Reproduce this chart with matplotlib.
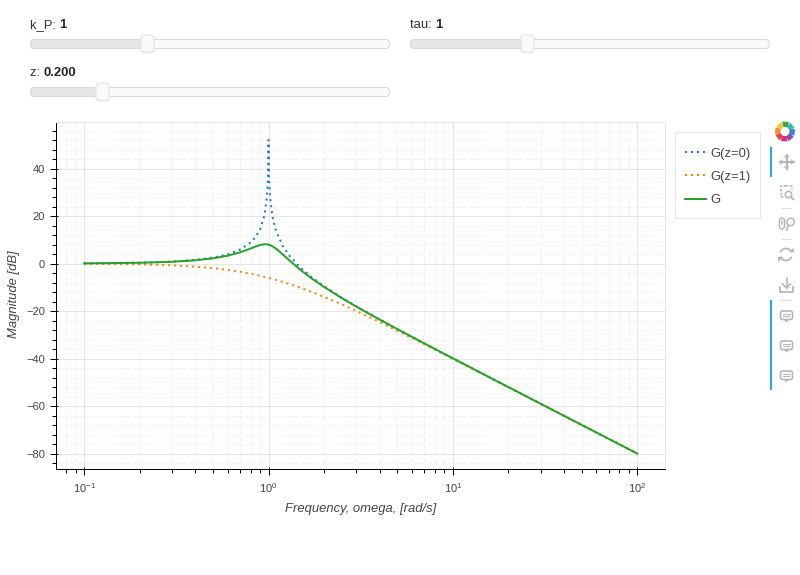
import math
import matplotlib
matplotlib.use('Agg')
import matplotlib.pyplot as plt
from matplotlib.patches import FancyBboxPatch, Rectangle, Circle, Arc, Polygon
from matplotlib.ticker import LogLocator, MultipleLocator, FixedLocator, FixedFormatter, NullFormatter

plt.rcParams['font.family'] = ['Liberation Sans', 'DejaVu Sans']
plt.rcParams['mathtext.fontset'] = 'custom'
plt.rcParams['mathtext.rm'] = 'Liberation Sans'
plt.rcParams['mathtext.default'] = 'regular'

# Frequency response, magnitude in dB
omega_undamped = [0.1, 0.2, 0.3, 0.4, 0.5, 0.6, 0.7, 0.8, 0.85, 0.9, 0.95, 0.98, 0.99, 0.995, 0.998, 0.9987,
                  1.0013, 1.002, 1.005, 1.01, 1.02, 1.05, 1.1, 1.2, 1.3, 1.5, 1.7, 2, 2.5, 3, 4, 5, 7,
                  10, 20, 30, 50, 70, 100]
mag_undamped = [0.09, 0.35, 0.82, 1.51, 2.50, 3.88, 5.85, 8.87, 11.14, 14.42, 20.22, 28.05, 34.0, 40.0, 47.97, 52.0,
                52.0, 48.0, 40.0, 33.9, 27.9, 19.8, 13.6, 7.13, 3.22, -1.94, -5.53, -9.54, -14.4, -18.06, -23.52, -27.6, -33.62,
                -39.91, -52.02, -59.08, -67.96, -73.80, -80.0]

omega_critical = [0.1, 0.2, 0.3, 0.4, 0.5, 0.6, 0.7, 0.8, 0.9, 1, 1.2, 1.5, 2, 2.5, 3, 4, 5, 7,
                  10, 20, 30, 50, 70, 100]
mag_critical = [-0.09, -0.34, -0.75, -1.29, -1.94, -2.67, -3.47, -4.30, -5.15, -6.02, -7.74, -10.24, -13.98, -17.21, -20.0, -24.61, -28.3, -33.98,
                -40.09, -52.06, -59.09, -67.96, -73.81, -80.0]

omega_g = [0.1, 0.2, 0.3, 0.4, 0.5, 0.6, 0.7, 0.8, 0.85, 0.9, 0.95, 0.98, 1.0, 1.02, 1.05, 1.1, 1.2, 1.3, 1.5, 1.7, 2, 2.5, 3, 4, 5, 7,
           10, 20, 30, 50, 70, 100]
mag_g = [0.08, 0.33, 0.74, 1.36, 2.20, 3.30, 4.70, 6.34, 7.15, 7.81, 8.13, 8.09, 7.96, 7.74, 7.28, 6.24, 3.73, 1.27, -2.84, -6.06, -9.84, -14.56, -18.16, -23.57, -27.63, -33.64,
         -39.92, -52.02, -59.08, -67.96, -73.80, -80.0]

series_labels = ['G(z=0)', 'G(z=1)', 'G']
slider_labels = ['k_P: ', 'tau: ', 'z: ']
slider_values = ['1', '1', '0.200']

x_major = [0.1, 1, 10, 100]
x_tick_labels = ['$10^{\u22121}$', '$10^{0}$', '$10^{1}$', '$10^{2}$']
y_major = [-80, -60, -40, -20, 0, 20, 40]
y_tick_labels = ['\u221280', '\u221260', '\u221240', '\u221220', '0', '20', '40']

W, H = 800, 575
PX = 0.72
TEXT = '#444444'
ICON = '#b5b5b5'

fig = plt.figure(figsize=(W / 100, H / 100), dpi=100)

# main plot frame, placed in pixels
left, right, top, bottom = 56.2, 665.2, 122, 469
pos = [left / W, 1 - bottom / H, (right - left) / W, (bottom - top) / H]
ax = fig.add_axes(pos)
ax.set_xscale('log')
ax.set_xlim(10 ** -1.1515, 10 ** 2.1515)
ax.set_ylim(-86.5, 59.6)

ax.xaxis.set_major_locator(FixedLocator(x_major))
ax.xaxis.set_major_formatter(FixedFormatter(x_tick_labels))
ax.xaxis.set_minor_locator(LogLocator(base=10, subs=range(2, 10), numticks=12))
ax.xaxis.set_minor_formatter(NullFormatter())
ax.yaxis.set_major_locator(FixedLocator(y_major))
ax.yaxis.set_major_formatter(FixedFormatter(y_tick_labels))
ax.yaxis.set_minor_locator(MultipleLocator(4))

ax.grid(True, which='major', color='#e5e5e5', linewidth=1 * PX)
ax.grid(True, which='minor', color='#f1f1f1', linewidth=1 * PX, linestyle=(0, (4, 3)))
ax.set_axisbelow(True)

for side in ['top', 'right']:
    ax.spines[side].set_color('#e5e5e5')
    ax.spines[side].set_linewidth(1 * PX)
for side in ['left', 'bottom']:
    ax.spines[side].set_color('black')
    ax.spines[side].set_linewidth(1 * PX)

ax.tick_params(which='major', direction='out', length=6 * PX, width=1 * PX, color='black',
               labelsize=8, labelcolor=TEXT)
ax.tick_params(axis='x', which='major', pad=4.3)
ax.tick_params(axis='y', which='major', pad=3.8)
ax.tick_params(which='minor', direction='out', length=4 * PX, width=1 * PX, color='black')

# the inward part of the major ticks
ax_in = fig.add_axes(pos, frameon=False, sharex=ax, sharey=ax)
ax_in.patch.set_visible(False)
ax_in.tick_params(which='major', direction='in', length=2 * PX, width=1 * PX, color='black',
                  labelbottom=False, labelleft=False)
ax_in.tick_params(which='minor', length=0)

dots = (0, (1, 2))
line0, = ax.plot(omega_undamped, mag_undamped, color='#1f77b4', linewidth=2 * PX, linestyle=dots,
                 dash_capstyle='butt', label=series_labels[0])
line1, = ax.plot(omega_critical, mag_critical, color='#ff7f0e', linewidth=2 * PX, linestyle=dots,
                 dash_capstyle='butt', label=series_labels[1])
line2, = ax.plot(omega_g, mag_g, color='#2ca02c', linewidth=2 * PX, label=series_labels[2])

ax.set_xlabel('Frequency, omega, [rad/s]', fontsize=9.4, style='italic', color=TEXT, labelpad=6.2)
ax.set_ylabel('Magnitude [dB]', fontsize=9.4, style='italic', color=TEXT)
ax.yaxis.set_label_coords(-0.0602, 0.503)

# overlay in pixel coordinates for the sliders and the toolbar
ui = fig.add_axes([0, 0, 1, 1], frameon=False)
ui.set_xlim(0, W)
ui.set_ylim(H, 0)
ui.axis('off')

# legend box is drawn separately so its padding can differ per side
ui.add_patch(Rectangle((675, 132), 85, 86, fc='white', ec='#e5e5e5', lw=1 * PX))
leg = fig.legend(handles=[line0, line1, line2], loc='upper left',
                 bbox_to_anchor=(676 / W, 1 - 138 / H), borderaxespad=0, fontsize=9.4,
                 labelcolor=TEXT, frameon=False,
                 handlelength=1.55, handletextpad=0.4, labelspacing=0.86, borderpad=0.72)


def slider(x0, x1, y, handle_x, label, value):
    ui.add_patch(FancyBboxPatch((x0 + 0.5, y), x1 - x0 - 1, 9, boxstyle='round,pad=0,rounding_size=4',
                                fc='#fafafa', ec='#d9d9d9', lw=1 * PX))
    ui.add_patch(FancyBboxPatch((x0 + 0.5, y), handle_x - x0, 9, boxstyle='round,pad=0,rounding_size=4',
                                fc='#e6e6e6', ec='#d9d9d9', lw=1 * PX))
    # soft handle shadow
    ui.add_patch(FancyBboxPatch((handle_x - 7.5, y - 3.5), 15, 18, boxstyle='round,pad=0,rounding_size=3',
                                fc='#eeeeee', ec='none', alpha=0.6))
    ui.add_patch(FancyBboxPatch((handle_x - 6.5, y - 4.5), 13, 17, boxstyle='round,pad=0,rounding_size=3',
                                fc='#fafafa', ec='#e2e2e2', lw=1 * PX))
    t = ui.text(x0, y - 11.5, label, fontsize=9.4, color='#333333', va='baseline')
    box = t.get_window_extent(fig.canvas.get_renderer())
    ui.text(box.x1 - 0.4, y - 11.5, value, fontsize=9.4, color='#222222', weight='bold', va='baseline')


slider(30, 390, 39.5, 147.5, slider_labels[0], slider_values[0])
slider(410, 770, 39.5, 527.5, slider_labels[1], slider_values[1])
slider(30, 390, 87.5, 102.5, slider_labels[2], slider_values[2])

# toolbar logo, eight blades going clockwise from the top
logo_colors = ['#2ca02c', '#1fb5a5', '#2b78c2', '#7b3fa8', '#d81b7e', '#e8323c', '#f58220', '#f5c02e']
for i, c in enumerate(logo_colors):
    a = math.radians(-90 + 45 * i)
    blade = []
    for r, da in [(5, -24), (10.3, -14), (10.3, 24), (5, 30)]:
        blade.append((785 + r * math.cos(a + math.radians(da)), 131.5 + r * math.sin(a + math.radians(da))))
    ui.add_patch(Polygon(blade, closed=True, fc=c, ec='none', alpha=0.92))

# active tool bars
ui.add_patch(Rectangle((770, 147), 2, 30, fc='#26aae1', ec='none'))
ui.add_patch(Rectangle((770, 300), 2, 90, fc='#26aae1', ec='none'))
for y in [207.5, 238.5, 299.5]:
    ui.plot([781, 791], [y, y], color='#dddddd', lw=1 * PX)

# pan
ui.plot([779.5, 793.5], [162, 162], color=ICON, lw=2.2 * PX)
ui.plot([786.5, 786.5], [155, 169], color=ICON, lw=2.2 * PX)
for pts in [[(783.5, 157.5), (786.5, 154.5), (789.5, 157.5)], [(783.5, 166.5), (786.5, 169.5), (789.5, 166.5)],
            [(782, 159), (779, 162), (782, 165)], [(791, 159), (794, 162), (791, 165)]]:
    ui.add_patch(Polygon(pts, closed=True, fc=ICON, ec='none'))

# box zoom
ui.plot([786, 780.5, 780.5, 784], [186, 186, 197, 197], color=ICON, lw=1.6 * PX, linestyle=(0, (1.5, 1)))
ui.plot([786, 791.5, 791.5], [186, 186, 189], color=ICON, lw=1.6 * PX, linestyle=(0, (1.5, 1)))
ui.add_patch(Circle((788.5, 194.5), 3.2, fc='none', ec=ICON, lw=1.5 * PX))
ui.plot([791, 793.5], [197, 199.5], color=ICON, lw=1.7 * PX)

# wheel zoom
ui.add_patch(FancyBboxPatch((779.5, 218), 5, 11, boxstyle='round,pad=0,rounding_size=2.5', fc='none', ec=ICON, lw=1.5 * PX))
ui.plot([782, 782], [221, 224], color=ICON, lw=1.5 * PX)
ui.add_patch(Circle((790.5, 222), 3.7, fc='none', ec=ICON, lw=1.5 * PX))
ui.plot([788.5, 786.5], [225.5, 230], color=ICON, lw=1.7 * PX)

# reset
ui.add_patch(Arc((786, 254.5), 12, 12, theta1=200, theta2=340, ec=ICON, lw=1.7 * PX))
ui.add_patch(Arc((786, 254.5), 12, 12, theta1=20, theta2=160, ec=ICON, lw=1.7 * PX))
ui.add_patch(Polygon([(789, 252), (794, 252), (794, 247.5)], closed=True, fc=ICON, ec='none'))
ui.add_patch(Polygon([(783, 257), (778, 257), (778, 261.5)], closed=True, fc=ICON, ec='none'))

# save
ui.plot([786.5, 786.5], [278, 288], color=ICON, lw=1.6 * PX)
ui.plot([782.5, 786.5, 790.5], [284, 288, 284], color=ICON, lw=1.6 * PX)
ui.plot([780, 780, 793, 793], [287, 291.5, 291.5, 287], color=ICON, lw=1.7 * PX)

# hover tools
for y in [315.5, 345.5, 375.5]:
    ui.add_patch(FancyBboxPatch((780.5, y - 4.5), 12, 8.5, boxstyle='round,pad=0,rounding_size=2',
                                fc='none', ec=ICON, lw=1.6 * PX))
    ui.plot([783, 790], [y - 2, y - 2], color=ICON, lw=1 * PX)
    ui.plot([783, 788.5], [y + 0.7, y + 0.7], color=ICON, lw=1 * PX)
    ui.plot([785, 786.5, 788], [y + 4.2, y + 6.2, y + 4.2], color=ICON, lw=1.3 * PX)

fig.savefig('out.png', dpi=100)
